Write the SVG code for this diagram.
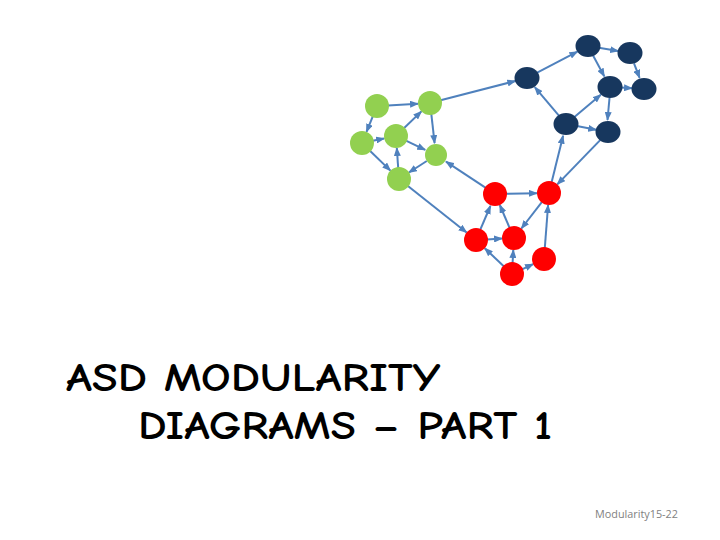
<svg xmlns="http://www.w3.org/2000/svg" width="720" height="540" viewBox="0 0 720 540">
<defs>
<marker id="ah" markerUnits="userSpaceOnUse" markerWidth="9" markerHeight="7" refX="8" refY="3.5" orient="auto">
<path d="M0,0 L9,3.5 L0,7 z" fill="#4F81BD"/>
</marker>
<style>
.e{stroke:#4F81BD;stroke-width:2;fill:none;marker-end:url(#ah)}
.g{fill:#92D050}
.n{fill:#17375E}
.r{fill:#FF0000}
.t{font-family:"Comic Sans MS","Comic Neue","DejaVu Sans",sans-serif;font-size:41px;font-weight:bold;fill:#000}
.f{font-family:"Open Sans","Liberation Sans",sans-serif;font-size:11px;fill:#7F7F7F}
</style>
</defs>
<rect width="720" height="540" fill="#fff"/>
<g id="connectors">
<line class="e" x1="388" y1="105.4" x2="418" y2="103.7"/>
<line class="e" x1="372.9" y1="116.2" x2="366.5" y2="131.9"/>
<line class="e" x1="372.8" y1="140.8" x2="384.2" y2="138.4"/>
<line class="e" x1="403.9" y1="128.3" x2="421.4" y2="111.4"/>
<line class="e" x1="431.3" y1="113.9" x2="434.6" y2="143.1"/>
<line class="e" x1="405.9" y1="140.7" x2="425.2" y2="149.9"/>
<line class="e" x1="398.2" y1="168" x2="396.8" y2="148"/>
<line class="e" x1="369.9" y1="150.7" x2="390.4" y2="170.6"/>
<line class="e" x1="426.8" y1="161" x2="408.9" y2="172.5"/>
<line class="e" x1="440.6" y1="100.3" x2="515.4" y2="81"/>
<line class="e" x1="485.8" y1="187.9" x2="446" y2="161.6"/>
<line class="e" x1="407.6" y1="185.8" x2="466.6" y2="232.5"/>
<line class="e" x1="598.8" y1="47.8" x2="618.2" y2="51"/>
<line class="e" x1="536.7" y1="72.9" x2="577.4" y2="51.6"/>
<line class="e" x1="593.2" y1="55.7" x2="604.3" y2="76.4"/>
<line class="e" x1="621" y1="87.6" x2="632" y2="88.3"/>
<line class="e" x1="634" y1="63.3" x2="639.6" y2="77.8"/>
<line class="e" x1="558.9" y1="115.6" x2="534.8" y2="87.2"/>
<line class="e" x1="574.4" y1="116.9" x2="600.8" y2="94.7"/>
<line class="e" x1="576.8" y1="126.1" x2="596.2" y2="129.8"/>
<line class="e" x1="609.5" y1="98" x2="607.5" y2="120"/>
<line class="e" x1="600.4" y1="139.9" x2="557.3" y2="184.4"/>
<line class="e" x1="551.6" y1="182.3" x2="563.1" y2="135.7"/>
<line class="e" x1="506" y1="193.8" x2="537" y2="193.2"/>
<line class="e" x1="480.2" y1="229.8" x2="490.4" y2="206"/>
<line class="e" x1="509.6" y1="227.9" x2="499.8" y2="205"/>
<line class="e" x1="542.2" y1="201.7" x2="521.4" y2="228.5"/>
<line class="e" x1="487" y1="239.4" x2="502" y2="238.6"/>
<line class="e" x1="504" y1="266.4" x2="484.7" y2="248.2"/>
<line class="e" x1="512.6" y1="263" x2="513.3" y2="250"/>
<line class="e" x1="522" y1="269.3" x2="533.1" y2="264.1"/>
<line class="e" x1="544.8" y1="248" x2="548.1" y2="205"/>
</g>
<g id="G1"><circle class="g" cx="377" cy="106" r="12"/></g>
<g id="G2"><circle class="g" cx="430" cy="103" r="12"/></g>
<g id="G3"><circle class="g" cx="362" cy="143" r="12"/></g>
<g id="G4"><circle class="g" cx="396" cy="136" r="12"/></g>
<g id="G5"><circle class="g" cx="436" cy="155" r="11"/></g>
<g id="G6"><circle class="g" cx="399" cy="179" r="12"/></g>
<g id="N1"><ellipse class="n" cx="588" cy="46" rx="12.5" ry="11"/></g>
<g id="N2"><ellipse class="n" cx="630" cy="53" rx="12.5" ry="11"/></g>
<g id="N3"><ellipse class="n" cx="527" cy="78" rx="12.5" ry="11"/></g>
<g id="N4"><ellipse class="n" cx="610" cy="87" rx="12.5" ry="11"/></g>
<g id="N5"><ellipse class="n" cx="644" cy="89" rx="12.5" ry="11"/></g>
<g id="N6"><ellipse class="n" cx="566" cy="124" rx="12.5" ry="11"/></g>
<g id="N7"><ellipse class="n" cx="608" cy="132" rx="12.5" ry="11"/></g>
<g id="R1"><circle class="r" cx="495" cy="194" r="12"/></g>
<g id="R2"><circle class="r" cx="549" cy="193" r="12"/></g>
<g id="R3"><circle class="r" cx="476" cy="240" r="12"/></g>
<g id="R4"><circle class="r" cx="514" cy="238" r="12"/></g>
<g id="R5"><circle class="r" cx="544" cy="259" r="12"/></g>
<g id="R6"><circle class="r" cx="512" cy="274" r="12"/></g>
<g id="title">
<text class="t" x="66" y="391" textLength="374" lengthAdjust="spacingAndGlyphs">ASD MODULARITY</text>
<text class="t" x="138" y="439" textLength="414" lengthAdjust="spacingAndGlyphs">DIAGRAMS – PART 1</text>
</g>
<text class="f" x="595" y="518" textLength="83" lengthAdjust="spacingAndGlyphs">Modularity15-22</text>
</svg>
